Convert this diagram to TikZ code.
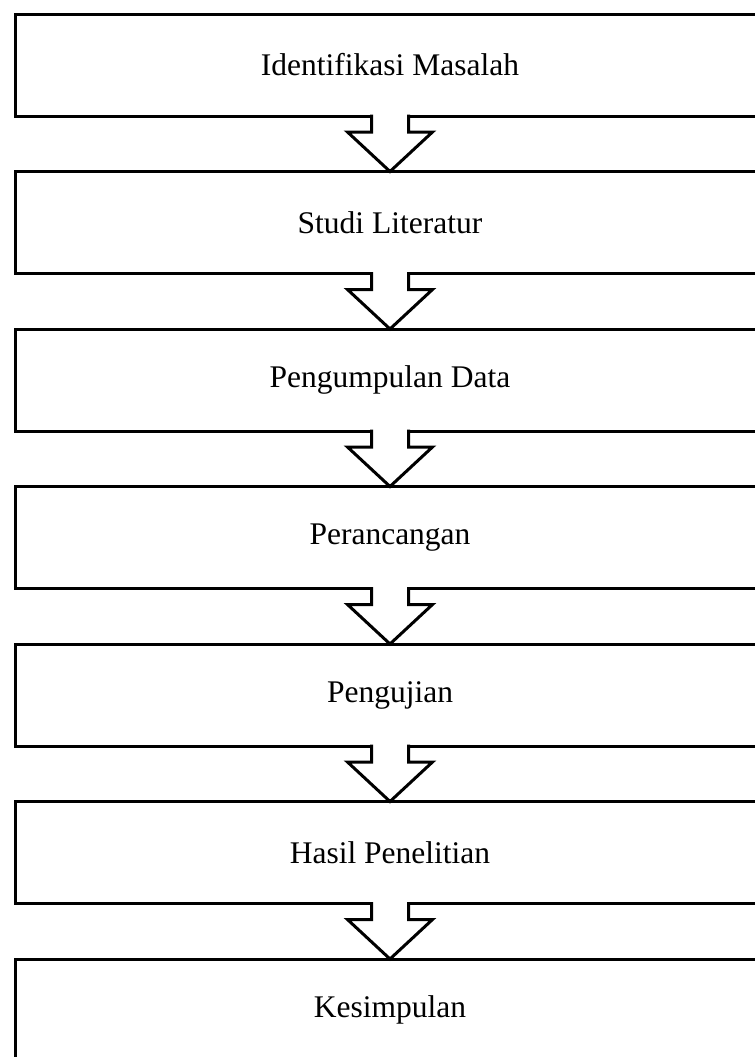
\documentclass[tikz,border=0pt]{standalone}
\usepackage{fontspec}
\setmainfont{Liberation Serif}
\usetikzlibrary{calc}
\newcommand{\boxwidth}{375pt}
\newcommand{\boxheight}{51pt}
\newcommand{\thickness}{1.5pt}
\tikzset{
  stagebox/.style={draw, line width=\thickness, minimum width=\boxwidth, minimum height=\boxheight,
    outer sep=0pt, inner sep=0pt, font=\fontsize{15.75}{18}\selectfont},
  arrowline/.style={draw, line width=\thickness, line join=miter},
}
% hollow block arrow from the bottom of #1 to the top of #2
\newcommand{\flowarrow}[2]{%
\fill[white] ($(#1.south)+(-18.5,-3)$) rectangle ($(#1.south)+(18.5,3)$);
\draw[arrowline] ($(#1.south)+(-18.5,-1.5)$) -- ++(0,17.5) -- ++(-24,0) -- (#2.north)
  -- ($(#1.south)+(42.5,16)$) -- ++(-24,0) -- ++(0,-17.5);
}

\begin{document}
\begin{tikzpicture}[x=0.5pt,y=-0.5pt]
\useasboundingbox (0,0) rectangle (755,1057);
\node[stagebox] (1) at (390,65) {Identifikasi Masalah};
\node[stagebox] (2) at (390,222.5) {Studi Literatur};
\node[stagebox] (3) at (390,380) {Pengumpulan Data};
\node[stagebox] (4) at (390,537.5) {Perancangan};
\node[stagebox] (5) at (390,695) {Pengujian};
\node[stagebox] (6) at (390,852.5) {Hasil Penelitian};
\node[stagebox] (7) at (390,1010) {Kesimpulan};
%arrows
\flowarrow{1}{2}
\flowarrow{2}{3}
\flowarrow{3}{4}
\flowarrow{4}{5}
\flowarrow{5}{6}
\flowarrow{6}{7}
\end{tikzpicture}
\end{document}
